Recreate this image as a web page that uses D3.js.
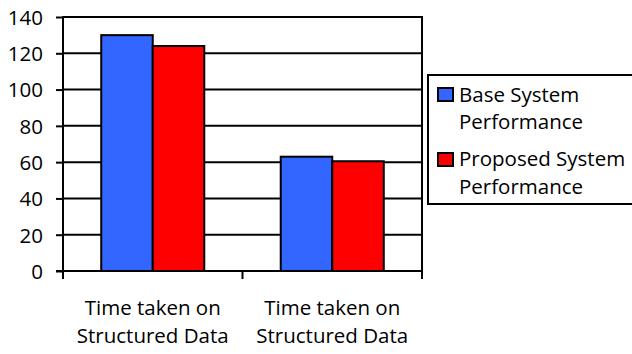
<!DOCTYPE html>
<html>
<head>
<meta charset="utf-8">
<script src="https://cdn.jsdelivr.net/npm/d3@7"></script>
<style>
  html, body { margin: 0; padding: 0; background: #fff; }
  text { font-family: "Open Sans", "Noto Sans", sans-serif; fill: #000; }
</style>
</head>
<body>
<svg id="chart" width="632" height="354"></svg>
<script>
const categories = [["Time taken on", "Structured Data"], ["Time taken on", "Structured Data"]];
const seriesNames = ["Base System Performance", "Proposed System Performance"];
const legendLines = [["Base System", "Performance"], ["Proposed System", "Performance"]];
const baseValues = [130, 63];
const proposedValues = [124, 60.5];
const yTicks = [0, 20, 40, 60, 80, 100, 120, 140];
const colors = ["#3366FF", "#FF0000"];

(function() {
const svg = d3.select("#chart");
const pL = 63, pR = 422, pT = 17, pB = 271;
const fs = 20.5;

const x0 = d3.scaleBand().domain(d3.range(categories.length)).range([pL, pR]).padding(0);
const bw = x0.bandwidth();
const groupPad = bw * 0.213;
const x1 = d3.scaleBand().domain(d3.range(seriesNames.length)).range([groupPad, bw - groupPad]).padding(0);
const y = d3.scaleLinear().domain([0, 140]).range([pB, pT]);

const data = categories.map((c, i) => [baseValues[i], proposedValues[i]]);

// gridlines
svg.append("g").selectAll("line").data(yTicks).join("line")
  .attr("x1", pL).attr("x2", pR)
  .attr("y1", d => y(d)).attr("y2", d => y(d))
  .attr("stroke", "#000").attr("stroke-width", 2);

// right border
svg.append("line").attr("x1", pR).attr("x2", pR).attr("y1", pT - 1).attr("y2", pB + 8)
  .attr("stroke", "#000").attr("stroke-width", 2);

// bars
const groups = svg.append("g").selectAll("g").data(data).join("g")
  .attr("transform", (d, i) => `translate(${x0(i)},0)`);
groups.selectAll("rect").data(d => d.map((v, j) => ({v, j}))).join("rect")
  .attr("x", d => x1(d.j))
  .attr("width", x1.bandwidth())
  .attr("y", d => y(d.v))
  .attr("height", d => y(0) - y(d.v))
  .attr("fill", d => colors[d.j])
  .attr("stroke", "#000").attr("stroke-width", 2);

// y axis
const yAxis = svg.append("g").attr("transform", `translate(${pL},0)`)
  .call(d3.axisLeft(y).tickValues(yTicks).tickSize(7).tickPadding(13));
yAxis.selectAll("line").attr("stroke", "#000").attr("stroke-width", 2);
yAxis.select(".domain").remove();
yAxis.selectAll("text").style("font-size", fs + "px").style("font-family", '"Open Sans", sans-serif').attr("dy", "0.36em");
svg.append("line").attr("x1", pL).attr("x2", pL).attr("y1", pT - 1).attr("y2", pB + 8)
  .attr("stroke", "#000").attr("stroke-width", 2);

// x axis baseline + ticks at category boundaries
const boundaries = d3.range(categories.length + 1).map(i => pL + i * bw);
svg.append("g").selectAll("line").data(boundaries).join("line")
  .attr("x1", d => d).attr("x2", d => d).attr("y1", pB).attr("y2", pB + 8)
  .attr("stroke", "#000").attr("stroke-width", 2);
svg.append("line").attr("x1", pL - 7).attr("x2", pR).attr("y1", pB).attr("y2", pB)
  .attr("stroke", "#000").attr("stroke-width", 2);

// category labels
const cl = svg.append("g").selectAll("text").data(categories).join("text")
  .attr("text-anchor", "middle")
  .attr("x", (d, i) => x0(i) + bw / 2)
  .style("font-size", fs + "px");
cl.selectAll("tspan").data(d => d).join("tspan")
  .attr("x", function() { return d3.select(this.parentNode).attr("x"); })
  .attr("y", (d, k) => 315 + k * 28)
  .text(d => d);

// legend
const lg = svg.append("g");
lg.append("rect").attr("x", 428).attr("y", 75).attr("width", 220).attr("height", 129)
  .attr("fill", "#fff").attr("stroke", "#000").attr("stroke-width", 2);
const items = lg.selectAll("g.item").data(seriesNames).join("g").attr("class", "item");
items.append("rect")
  .attr("x", 438).attr("y", (d, i) => 88 + i * 65).attr("width", 15).attr("height", 13)
  .attr("fill", (d, i) => colors[i]).attr("stroke", "#000").attr("stroke-width", 2);
items.append("text").style("font-size", fs + "px")
  .selectAll("tspan").data((d, i) => legendLines[i].map(t => ({t, i}))).join("tspan")
  .attr("x", 459).attr("y", (d, k) => 101.5 + d.i * 64.5 + k * 27.5)
  .text(d => d.t);
})();
</script>
</body>
</html>
